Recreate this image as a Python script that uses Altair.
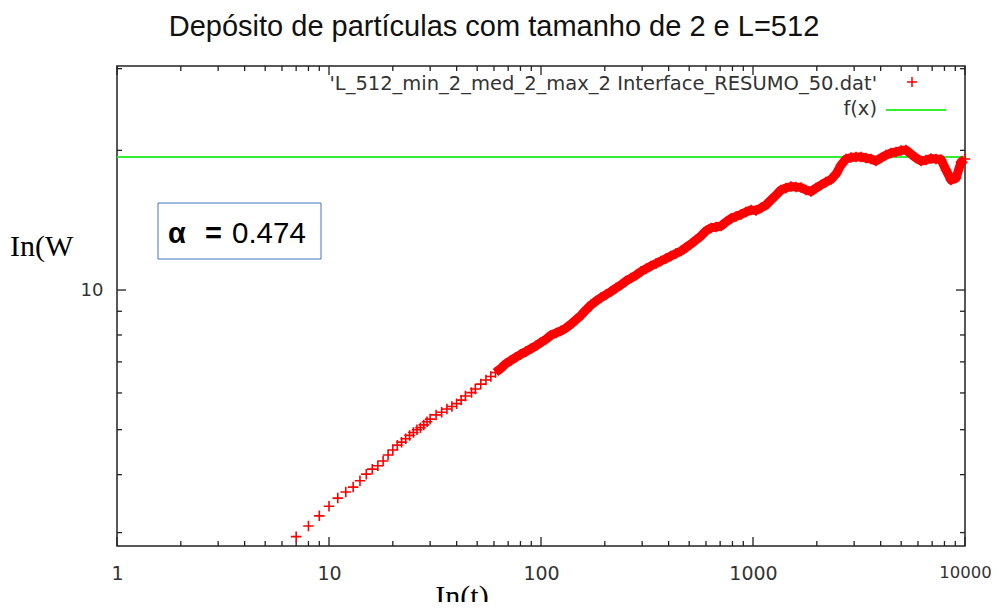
import altair as alt
import pandas as pd

title_text = "Depósito de partículas com tamanho de 2 e L=512"
series_label = "'L_512_min_2_med_2_max_2 Interface_RESUMO_50.dat'"
fit_label = "f(x)"
alpha_symbol = "α"
alpha_eq = "="
alpha_value = "0.474"
x_title = "In(t)"
y_title = "In(W"

t_values = [7, 8, 9, 10, 11, 12, 13, 14, 15, 16, 17, 18, 19, 20,
            21, 22, 23, 24, 25, 26, 27, 28, 29, 30,
            32, 34, 36, 38, 40, 42, 44, 47, 49, 52, 55, 58, 61, 65, 68, 72, 76, 80, 85, 90, 95,
            100, 106, 111, 118, 124, 131, 139, 146, 154, 163, 172, 182, 192, 203, 214, 226, 238,
            252, 266, 281, 296, 313, 330, 349, 368, 389, 410, 433, 458, 483, 510, 538, 569, 600,
            634, 669, 707, 746, 788, 832, 878, 927, 979, 1033, 1091, 1152, 1216, 1284, 1356,
            1431, 1511, 1595, 1684, 1778, 1877, 1983, 2093, 2210, 2333, 2464, 2601, 2746, 2900,
            3061, 3232, 3412, 3603, 3804, 4016, 4240, 4477, 4727, 4991, 5269, 5563, 5874, 6201,
            6547, 6912, 7298, 7705, 8135, 8590, 9069, 9575, 10000]
w_values = [2.94, 3.10, 3.26, 3.42, 3.56, 3.67, 3.76, 3.88, 4.01, 4.11, 4.18, 4.28, 4.41, 4.52,
            4.63, 4.70, 4.78, 4.86, 4.93, 5.00, 5.05, 5.12, 5.20, 5.27,
            5.38, 5.45, 5.54, 5.61, 5.69, 5.79, 5.91, 6.01, 6.12, 6.27, 6.40, 6.51, 6.64, 6.79,
            6.93, 7.05, 7.16, 7.26, 7.37, 7.48, 7.59,
            7.71, 7.84, 7.98, 8.08, 8.16, 8.28, 8.45, 8.62, 8.81, 9.06, 9.28, 9.47, 9.63, 9.78,
            9.93, 10.10, 10.25,
            10.46, 10.61, 10.77, 10.96, 11.12, 11.26, 11.41, 11.55, 11.69, 11.84, 11.99, 12.14,
            12.35, 12.57, 12.82, 13.08, 13.41,
            13.61, 13.67, 13.74, 14.02, 14.26, 14.41, 14.55, 14.73, 14.88, 14.84, 15.03, 15.25,
            15.63, 16.02, 16.43,
            16.59, 16.72, 16.67, 16.63, 16.43, 16.30, 16.59, 16.84, 17.09, 17.30, 17.78, 18.59,
            19.16, 19.30,
            19.35, 19.35, 19.26, 19.16, 18.97, 19.26, 19.54, 19.74, 19.84, 19.98, 20.03, 19.64,
            19.26, 18.97,
            19.06, 19.21, 19.16, 19.11, 18.14, 17.26, 17.43, 18.87, 19.16]
fx_value = 19.35

x_major = [1, 10, 100, 1000, 10000]
x_minor = [2, 3, 4, 5, 6, 7, 8, 9, 20, 30, 40, 50, 60, 70, 80, 90,
           200, 300, 400, 500, 600, 700, 800, 900, 2000, 3000, 4000, 5000, 6000, 7000, 8000, 9000]
y_major = [10]
y_minor = [3, 4, 5, 6, 7, 8, 9, 20, 30]

PW, PH = 848, 480
MAJ, MIN = 9, 5
TICK_COLOR = "#222222"
RED = "#ff0000"
GREEN = "#33ee33"

df = pd.DataFrame({"t": t_values, "W": w_values})
xscale = alt.Scale(type="log", domain=[1, 10000], nice=False)
yscale = alt.Scale(type="log", domain=[2.807, 30.4], nice=False)
x_axis = alt.Axis(values=x_major, ticks=False, domain=False, grid=False, labelFlush=False,
                  labelFontSize={"condition": {"test": "datum.value >= 10000", "value": 16.5},
                                 "value": 19},
                  labelPadding=18, labelFont="DejaVu Sans",
                  labelColor="#333333", format="d", title=None)
y_axis = alt.Axis(values=y_major, ticks=False, domain=False, grid=False,
                  labelFontSize=18, labelPadding=14, labelFont="DejaVu Sans",
                  labelColor="#333333", format="d", title=None)
plus_shape = "M-1,0L1,0M0,-1L0,1"

band = alt.Chart(df).transform_filter("datum.t >= 60").mark_line(
    color=RED, strokeWidth=9, strokeJoin="round"
).encode(
    x=alt.X("t:Q", scale=xscale, axis=x_axis),
    y=alt.Y("W:Q", scale=yscale, axis=y_axis),
)

points = alt.Chart(df).mark_point(
    shape=plus_shape, filled=False, color=RED, size=110, strokeWidth=1.6, opacity=1
).encode(
    x=alt.X("t:Q", scale=xscale, axis=x_axis),
    y=alt.Y("W:Q", scale=yscale, axis=y_axis),
)

fx_line = alt.Chart(pd.DataFrame({"f": [fx_value]})).mark_rule(
    color=GREEN, strokeWidth=2
).encode(y=alt.Y("f:Q", scale=yscale, axis=y_axis))


def xticks(vals, length):
    d = pd.DataFrame({"v": vals})
    bottom = alt.Chart(d).mark_rule(color=TICK_COLOR, strokeWidth=1.3).encode(
        x=alt.X("v:Q", scale=xscale, axis=x_axis), y=alt.value(PH), y2=alt.value(PH - length))
    top = alt.Chart(d).mark_rule(color=TICK_COLOR, strokeWidth=1.3).encode(
        x=alt.X("v:Q", scale=xscale, axis=x_axis), y=alt.value(0), y2=alt.value(length))
    return [bottom, top]


def yticks(vals, length):
    d = pd.DataFrame({"v": vals})
    left = alt.Chart(d).mark_rule(color=TICK_COLOR, strokeWidth=1.3).encode(
        y=alt.Y("v:Q", scale=yscale, axis=y_axis), x=alt.value(0), x2=alt.value(length))
    right = alt.Chart(d).mark_rule(color=TICK_COLOR, strokeWidth=1.3).encode(
        y=alt.Y("v:Q", scale=yscale, axis=y_axis), x=alt.value(PW), x2=alt.value(PW - length))
    return [left, right]


tick_layers = xticks(x_major, MAJ) + xticks(x_minor, MIN) + yticks(y_major, MAJ) + yticks(y_minor, MIN)


def label(text, x, y, size, font="Liberation Sans", align="left", weight="normal",
          color="#222222", baseline="alphabetic"):
    return alt.Chart(pd.DataFrame({"s": [text]})).mark_text(
        font=font, fontSize=size, align=align, baseline=baseline, fontWeight=weight, color=color
    ).encode(text="s:N", x=alt.value(x), y=alt.value(y))


title = label(title_text, 377, -30, 29, align="center", color="#111111")
leg_text = label(series_label, 760, 24, 19.5, font="DejaVu Sans", align="right", color="#333333")
leg_fx = label(fit_label, 760, 49, 19.5, font="DejaVu Sans", align="right", color="#333333")
leg_plus = alt.Chart(pd.DataFrame({"s": [series_label]})).mark_point(
    shape=plus_shape, filled=False, color=RED, size=100, strokeWidth=1.5, opacity=1
).encode(x=alt.value(795), y=alt.value(16))
leg_line = alt.Chart(pd.DataFrame({"s": [fit_label]})).mark_rule(
    color=GREEN, strokeWidth=2
).encode(x=alt.value(769), x2=alt.value(829), y=alt.value(44))

box = alt.Chart(pd.DataFrame({"s": [alpha_value]})).mark_rect(
    fill="white", stroke="#4472c4", strokeWidth=1
).encode(x=alt.value(41), x2=alt.value(204), y=alt.value(137), y2=alt.value(193))
a_sym = label(alpha_symbol, 51, 177, 29, weight="bold", color="#000000")
a_eq = label(alpha_eq, 88, 177, 29, weight="bold", color="#000000")
a_val = label(alpha_value, 115, 177, 29.5, color="#000000")

ytitle = label(y_title, -107, 190, 30, font="Liberation Serif", color="#000000")
xtitle = label(x_title, 345, 540, 30, font="Liberation Serif", align="center", color="#000000")

chart = alt.layer(
    fx_line, *tick_layers, band, points, title, leg_text, leg_fx, leg_plus, leg_line,
    box, a_sym, a_eq, a_val, ytitle, xtitle
).properties(
    width=PW, height=PH, autosize="none",
    padding={"left": 109, "top": 58, "right": 26, "bottom": 56},
    background="white",
).configure_view(stroke="#222222", strokeWidth=1.5)

chart.save("out.html", embed_options={"renderer": "svg", "actions": False})
